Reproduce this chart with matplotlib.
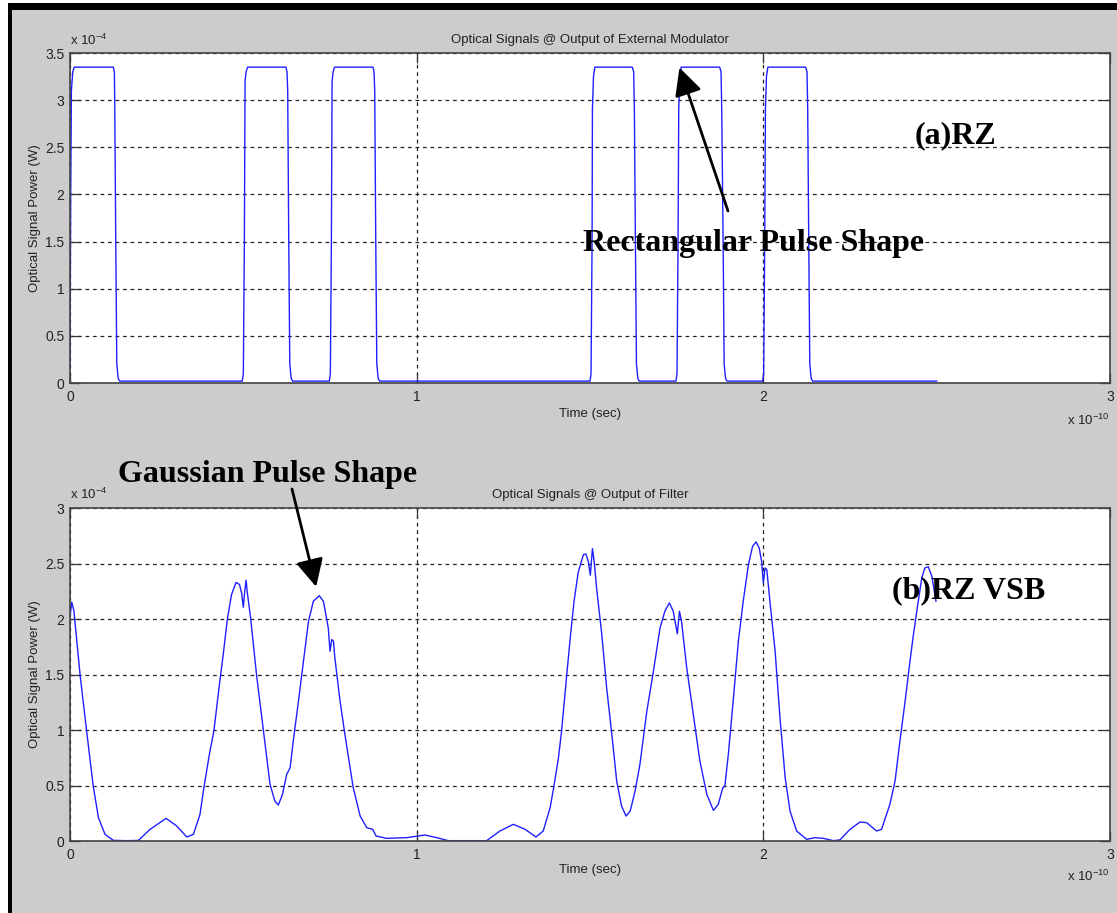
import matplotlib
matplotlib.use("Agg")
import matplotlib.pyplot as plt
from matplotlib.patches import Rectangle

plt.rcParams['font.family'] = ['Liberation Sans', 'DejaVu Sans']
plt.rcParams['mathtext.fontset'] = 'custom'
plt.rcParams['mathtext.rm'] = 'Liberation Sans'

W, H = 1117, 913

#--------------- RZ signal after the external modulator (t in 1e-10 s, P in 1e-4 W) ---------------
t_rz = [0.000, 0.002, 0.004, 0.008, 0.012, 0.125, 0.128, 0.129, 0.132, 0.135, 0.139, 0.143,
        0.497, 0.500, 0.503, 0.505, 0.508, 0.512, 0.623, 0.626, 0.628, 0.631, 0.634, 0.638, 0.642,
        0.748, 0.751, 0.754, 0.756, 0.759, 0.763, 0.874, 0.877, 0.879, 0.882, 0.885, 0.889, 0.893,
        1.500, 1.503, 1.506, 1.507, 1.510, 1.514, 1.622, 1.626, 1.628, 1.631, 1.634, 1.638, 1.642,
        1.748, 1.751, 1.754, 1.756, 1.759, 1.763, 1.874, 1.878, 1.880, 1.884, 1.887, 1.891, 1.895,
        1.998, 2.001, 2.004, 2.006, 2.009, 2.013, 2.122, 2.126, 2.128, 2.131, 2.134, 2.138, 2.142,
        2.500]
p_rz = [0.15, 2.00, 3.10, 3.30, 3.35, 3.35, 3.30, 3.00, 1.50, 0.20, 0.05, 0.02,
        0.02, 0.10, 1.50, 3.20, 3.30, 3.35, 3.35, 3.30, 3.10, 1.50, 0.20, 0.05, 0.02,
        0.02, 0.10, 1.50, 3.20, 3.30, 3.35, 3.35, 3.30, 3.10, 1.50, 0.20, 0.05, 0.02,
        0.02, 0.10, 1.50, 2.90, 3.25, 3.35, 3.35, 3.30, 2.90, 1.50, 0.20, 0.05, 0.02,
        0.02, 0.10, 1.50, 2.90, 3.25, 3.35, 3.35, 3.30, 2.90, 1.50, 0.20, 0.05, 0.02,
        0.02, 0.10, 1.50, 2.90, 3.25, 3.35, 3.35, 3.30, 2.90, 1.50, 0.20, 0.05, 0.02,
        0.02]

#--------------- RZ-VSB signal after the optical filter ---------------
t_vsb = [0.000, 0.005, 0.011, 0.029, 0.048, 0.067, 0.082, 0.101, 0.125, 0.160, 0.197, 0.231,
         0.277, 0.308, 0.337, 0.356, 0.375, 0.387, 0.402, 0.415, 0.431, 0.442, 0.454, 0.466,
         0.479, 0.489, 0.495, 0.500, 0.504, 0.508, 0.511, 0.521, 0.538, 0.558, 0.577, 0.591,
         0.601, 0.613, 0.625, 0.635, 0.644, 0.659, 0.671, 0.688, 0.702, 0.719, 0.731, 0.745,
         0.750, 0.755, 0.760, 0.764, 0.779, 0.793, 0.817, 0.837, 0.856, 0.873, 0.883, 0.913,
         0.971, 1.024, 1.058, 1.091, 1.202, 1.240, 1.279, 1.313, 1.344, 1.365, 1.385, 1.396,
         1.409, 1.418, 1.433, 1.444, 1.454, 1.466, 1.481, 1.488, 1.495, 1.501, 1.507, 1.512,
         1.519, 1.534, 1.548, 1.563, 1.577, 1.591, 1.604, 1.616, 1.630, 1.644, 1.664, 1.683,
         1.702, 1.716, 1.729, 1.740, 1.752, 1.758, 1.764, 1.779, 1.798, 1.817, 1.837, 1.856,
         1.870, 1.883, 1.889, 1.899, 1.913, 1.928, 1.942, 1.957, 1.969, 1.979, 1.988, 1.995,
         2.000, 2.005, 2.010, 2.019, 2.034, 2.048, 2.063, 2.077, 2.096, 2.125, 2.149, 2.173,
         2.202, 2.221, 2.250, 2.279, 2.298, 2.327, 2.341, 2.365, 2.380, 2.394, 2.409, 2.423,
         2.433, 2.444, 2.457, 2.466, 2.476, 2.486, 2.498]
p_vsb = [2.02, 2.15, 2.08, 1.50, 0.99, 0.495, 0.21, 0.06, 0.006, 0.003, 0.005, 0.105,
         0.204, 0.135, 0.036, 0.06, 0.24, 0.495, 0.78, 0.99, 1.41, 1.68, 2.00, 2.22,
         2.33, 2.31, 2.235, 2.106, 2.25, 2.35, 2.25, 2.01, 1.50, 0.99, 0.51, 0.36,
         0.324, 0.42, 0.60, 0.66, 0.90, 1.26, 1.56, 1.98, 2.16, 2.21, 2.16, 1.92,
         1.71, 1.815, 1.80, 1.65, 1.26, 0.96, 0.48, 0.225, 0.12, 0.105, 0.045, 0.024,
         0.03, 0.054, 0.03, 0.003, 0.003, 0.09, 0.15, 0.105, 0.036, 0.09, 0.30, 0.495,
         0.75, 0.99, 1.50, 1.86, 2.16, 2.42, 2.58, 2.586, 2.52, 2.394, 2.634, 2.52,
         2.28, 1.86, 1.38, 0.96, 0.54, 0.315, 0.225, 0.27, 0.45, 0.69, 1.17, 1.53,
         1.92, 2.07, 2.145, 2.07, 1.866, 2.07, 1.98, 1.56, 1.14, 0.72, 0.42, 0.276,
         0.33, 0.48, 0.495, 0.78, 1.26, 1.80, 2.16, 2.49, 2.655, 2.694, 2.64, 2.52,
         2.325, 2.46, 2.445, 2.16, 1.71, 1.11, 0.57, 0.27, 0.09, 0.015, 0.03, 0.024,
         0.003, 0.01, 0.105, 0.171, 0.165, 0.09, 0.105, 0.33, 0.54, 0.90, 1.26, 1.62,
         1.86, 2.10, 2.37, 2.46, 2.47, 2.385, 2.16]

x_ticks = [0, 1, 2, 3]
y_ticks_top = [0, 0.5, 1, 1.5, 2, 2.5, 3, 3.5]
y_ticks_bot = [0, 0.5, 1, 1.5, 2, 2.5, 3]


def fx(px):
    return px / W


def fy(py):
    # pixel row measured from the top edge -> figure fraction
    return 1 - py / H


fig = plt.figure(figsize=(W / 100, H / 100), dpi=100, facecolor='#cccccc')

# window frame
fig.add_artist(Rectangle((0, fy(3)), 1, 3 / H, transform=fig.transFigure, color='white', lw=0))
fig.add_artist(Rectangle((0, 0), fx(8), 1, transform=fig.transFigure, color='white', lw=0))
fig.add_artist(Rectangle((fx(8), fy(10)), 1, 7 / H, transform=fig.transFigure, color='black', lw=0))
fig.add_artist(Rectangle((fx(8), 0), fx(4), fy(3), transform=fig.transFigure, color='black', lw=0))

TXT = '#222222'


def style_axes(ax, yticks, ymax, title):
    ax.set_xlim(0, 3)
    ax.set_ylim(0, ymax)
    ax.set_xticks(x_ticks)
    ax.set_yticks(yticks)
    ax.set_xticklabels([str(v) for v in x_ticks])
    ax.set_yticklabels(['%g' % v for v in yticks])
    ax.grid(True, color='#222222', linestyle=(0, (3, 3)), linewidth=0.9)
    ax.tick_params(direction='in', length=7, width=0.9, top=True, right=True,
                   labelsize=10, colors='#333333', labelcolor=TXT)
    ax.tick_params(axis='y', pad=4)
    ax.tick_params(axis='x', pad=5)
    for s in ax.spines.values():
        s.set_color('#444444')
        s.set_linewidth(1.2)
    ax.set_facecolor('white')
    ax.set_title(title, fontsize=9.5, color=TXT, pad=7)
    ax.set_xlabel('Time (sec)', fontsize=9.5, color=TXT)
    ax.set_ylabel('Optical Signal Power (W)', fontsize=9.5, color=TXT)
    ax.yaxis.set_label_coords(-0.028, 0.5)


#--------------- (a) RZ ---------------
ax1 = fig.add_axes([fx(70), fy(383), fx(1040), 330 / H])
ax1.plot(t_rz, p_rz, color='#1f1fff', lw=1.0)
style_axes(ax1, y_ticks_top, 3.5, 'Optical Signals @ Output of External Modulator')
ax1.xaxis.set_label_coords(0.5, -0.075)

#--------------- (b) RZ VSB ---------------
ax2 = fig.add_axes([fx(70), fy(841), fx(1040), 333 / H])
ax2.plot(t_vsb, p_vsb, color='#1f1fff', lw=1.0)
style_axes(ax2, y_ticks_bot, 3, 'Optical Signals @ Output of Filter')
ax2.xaxis.set_label_coords(0.5, -0.069)

# axis multipliers
for top, bot in [(48, 428), (502, 884)]:
    fig.text(fx(70), fy(top), 'x 10$^{-4}$', fontsize=9.5, color=TXT, va='bottom', ha='left')
    fig.text(fx(1110), fy(bot), 'x 10$^{-10}$', fontsize=9.5, color=TXT, va='bottom', ha='right')

# labels and arrows
serif = dict(family=['Liberation Serif', 'DejaVu Serif'], weight='bold', size=23, color='black')
fig.text(fx(915), fy(143), '(a)RZ', va='baseline', ha='left', **serif)
fig.text(fx(583), fy(251), 'Rectangular Pulse Shape', va='baseline', ha='left', **serif)
fig.text(fx(118), fy(482), 'Gaussian Pulse Shape', va='baseline', ha='left', **serif)
fig.text(fx(892), fy(598), '(b)RZ VSB', va='baseline', ha='left', **serif)

arrow = dict(arrowstyle='-|>', color='black', lw=2, mutation_scale=42, shrinkA=0, shrinkB=0)
ax1.annotate('', xy=(1.758, 3.345), xytext=(fx(728), fy(211)), textcoords='figure fraction',
             arrowprops=arrow, annotation_clip=False)
ax2.annotate('', xy=(0.71, 2.29), xytext=(fx(292), fy(489)), textcoords='figure fraction',
             arrowprops=arrow, annotation_clip=False)

fig.savefig('out.png', dpi=100, facecolor=fig.get_facecolor())
